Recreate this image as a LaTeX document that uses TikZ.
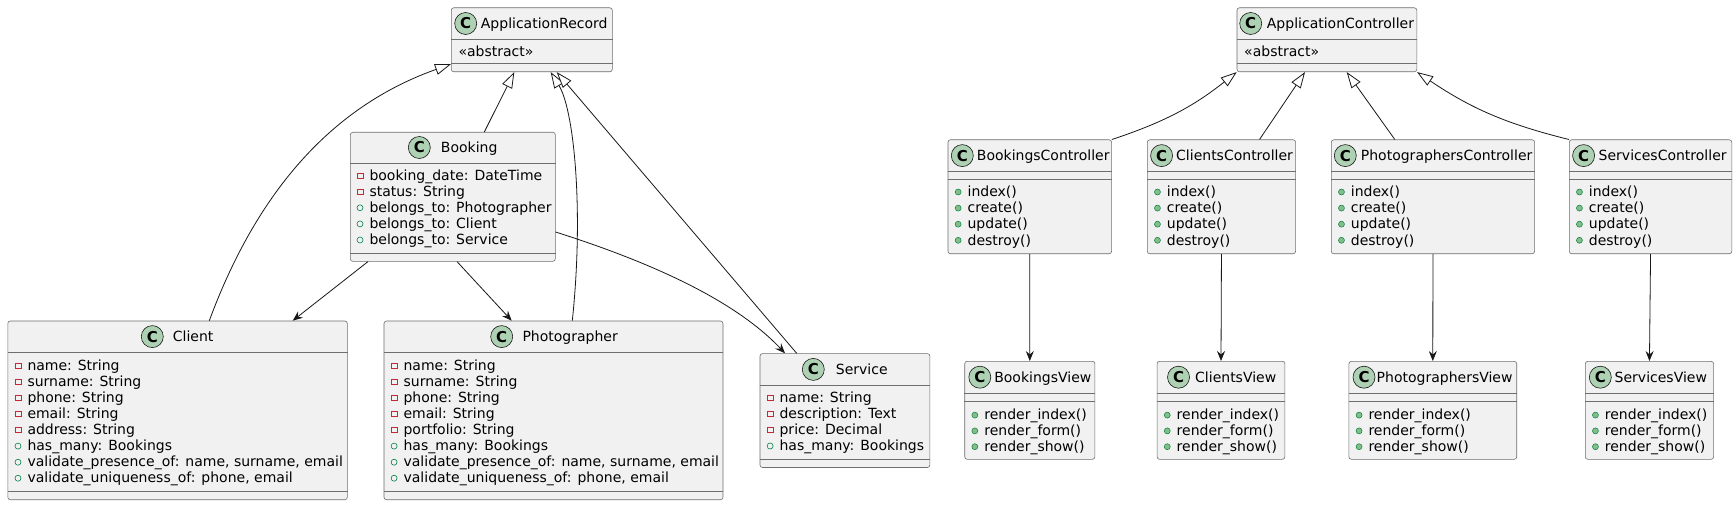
\documentclass[tikz,border=0pt]{standalone}
\usepackage{fontspec}
\setmainfont{DejaVu Sans}
\usetikzlibrary{arrows.meta,calc}

\definecolor{umlfill}{HTML}{F1F1F1}
\definecolor{umlline}{HTML}{181818}
\definecolor{umlbox}{HTML}{6E6E6E}
\definecolor{umlhead}{HTML}{ADD1B2}
\definecolor{umlpriv}{HTML}{C82930}
\definecolor{umlpub}{HTML}{038048}
\definecolor{umlmeth}{HTML}{84BE84}

\tikzset{
  umlclass/.style={draw=umlbox, fill=umlfill, line width=0.6pt, rounded corners=2.5pt,
    inner sep=0pt, anchor=north west},
  umlsep/.style={draw=umlbox, line width=0.6pt},
  umlicon/.style={circle, draw=umlline, fill=umlhead, line width=0.6pt, minimum size=22pt,
    inner sep=0pt, font=\fontsize{15}{15}\selectfont\bfseries},
  umlname/.style={anchor=base west, inner sep=0pt},
  umlrow/.style={anchor=base west, inner sep=0pt, text height=10pt, text depth=3pt},
  privmark/.style={rectangle, draw=umlpriv, line width=0.6pt, minimum size=5.5pt,
    inner sep=0pt, xshift=-6pt, yshift=1.2pt},
  pubmark/.style={circle, draw=umlpub, line width=0.6pt, minimum size=6pt,
    inner sep=0pt, xshift=-6pt, yshift=1.2pt},
  methmark/.style={circle, draw=umlpub, fill=umlmeth, line width=0.5pt, minimum size=6pt,
    inner sep=0pt, xshift=-6pt, yshift=1.2pt},
  privfield/.style={umlrow, label={[privmark]left:{}}},
  pubfield/.style={umlrow, label={[pubmark]left:{}}},
  pubmeth/.style={umlrow, label={[methmark]left:{}}},
  inh/.style={draw=umlline, line width=0.8pt, -{Triangle[length=16pt, width=11pt, fill=white]}},
  assoc/.style={draw=umlline, line width=0.8pt, -{Stealth[length=10pt, width=8pt, inset=3.5pt]}}
}

\begin{document}
\begin{tikzpicture}[x=1pt, y=-1pt, font=\fontsize{14}{16}\selectfont]
\useasboundingbox (0,0) rectangle (1735,505);
\fill [white] (0,0) rectangle (1735,505);

% models
\node [umlclass, minimum width=161pt, minimum height=64pt] (apprec) at (451,7.5) {};
\draw [umlsep] ($(apprec.north west)+(0,32)$) -- ($(apprec.north east)+(0,32)$);
\draw [umlsep] ($(apprec.north west)+(0,56)$) -- ($(apprec.north east)+(0,56)$);
\node [umlicon] (apprec-c) at (465.7,23.5) {C};
\node [umlname] (apprec-n) at (480.7,28.5) {ApplicationRecord};
\node [umlrow] (apprec-1) at (458.3,56.5) {«abstract»};

\node [umlclass, minimum width=205pt, minimum height=129pt] (booking) at (350,132) {};
\draw [umlsep] ($(booking.north west)+(0,31)$) -- ($(booking.north east)+(0,31)$);
\draw [umlsep] ($(booking.north west)+(0,121)$) -- ($(booking.north east)+(0,121)$);
\node [umlicon] (booking-c) at (419.3,147.5) {C};
\node [umlname] (booking-n) at (440.7,152.5) {Booking};
\node [privfield] (booking-1) at (369.3,180.3) {booking\_date: DateTime};
\node [privfield] (booking-2) at (369.3,196.4) {status: String};
\node [pubfield] (booking-3) at (369.3,212.5) {belongs\_to: Photographer};
\node [pubfield] (booking-4) at (369.3,228.6) {belongs\_to: Client};
\node [pubfield] (booking-5) at (369.3,244.7) {belongs\_to: Service};

\node [umlclass, minimum width=339.5pt, minimum height=178.7pt] (client) at (7.5,320.7) {};
\draw [umlsep] ($(client.north west)+(0,31.8)$) -- ($(client.north east)+(0,31.8)$);
\draw [umlsep] ($(client.north west)+(0,170.7)$) -- ($(client.north east)+(0,170.7)$);
\node [umlicon] (client-c) at (152.3,336.6) {C};
\node [umlname] (client-n) at (172.7,341.6) {Client};
\node [privfield] (client-1) at (27.3,370.5) {name: String};
\node [privfield] (client-2) at (27.3,386.6) {surname: String};
\node [privfield] (client-3) at (27.3,402.6) {phone: String};
\node [privfield] (client-4) at (27.3,418.7) {email: String};
\node [privfield] (client-5) at (27.3,434.7) {address: String};
\node [pubfield] (client-6) at (27.3,450.8) {has\_many: Bookings};
\node [pubfield] (client-7) at (27.3,466.9) {validate\_presence\_of: name, surname, email};
\node [pubfield] (client-8) at (27.3,482.9) {validate\_uniqueness\_of: phone, email};

\node [umlclass, minimum width=339pt, minimum height=178.7pt] (photographer) at (383.7,320.7) {};
\draw [umlsep] ($(photographer.north west)+(0,31.8)$) -- ($(photographer.north east)+(0,31.8)$);
\draw [umlsep] ($(photographer.north west)+(0,170.7)$) -- ($(photographer.north east)+(0,170.7)$);
\node [umlicon] (photographer-c) at (501.7,336.6) {C};
\node [umlname] (photographer-n) at (522.3,341.6) {Photographer};
\node [privfield] (photographer-1) at (403.4,370.5) {name: String};
\node [privfield] (photographer-2) at (403.4,386.6) {surname: String};
\node [privfield] (photographer-3) at (403.4,402.6) {phone: String};
\node [privfield] (photographer-4) at (403.4,418.7) {email: String};
\node [privfield] (photographer-5) at (403.4,434.7) {portfolio: String};
\node [pubfield] (photographer-6) at (403.4,450.8) {has\_many: Bookings};
\node [pubfield] (photographer-7) at (403.4,466.9) {validate\_presence\_of: name, surname, email};
\node [pubfield] (photographer-8) at (403.4,482.9) {validate\_uniqueness\_of: phone, email};

\node [umlclass, minimum width=169.9pt, minimum height=113.9pt] (service) at (759.7,353.3) {};
\draw [umlsep] ($(service.north west)+(0,32.2)$) -- ($(service.north east)+(0,32.2)$);
\draw [umlsep] ($(service.north west)+(0,105.9)$) -- ($(service.north east)+(0,105.9)$);
\node [umlicon] (service-c) at (813.3,369.4) {C};
\node [umlname] (service-n) at (835.7,374.4) {Service};
\node [privfield] (service-1) at (779.4,402.5) {name: String};
\node [privfield] (service-2) at (779.4,418.6) {description: Text};
\node [privfield] (service-3) at (779.4,434.6) {price: Decimal};
\node [pubfield] (service-4) at (779.4,450.7) {has\_many: Bookings};

% controllers
\node [umlclass, minimum width=179.8pt, minimum height=64pt] (appctrl) at (1236.7,7.5) {};
\draw [umlsep] ($(appctrl.north west)+(0,32)$) -- ($(appctrl.north east)+(0,32)$);
\draw [umlsep] ($(appctrl.north west)+(0,56)$) -- ($(appctrl.north east)+(0,56)$);
\node [umlicon] (appctrl-c) at (1250.7,23.5) {C};
\node [umlname] (appctrl-n) at (1266.7,28.5) {ApplicationController};
\node [umlrow] (appctrl-1) at (1244,56.5) {«abstract»};

\node [umlclass, minimum width=163.6pt, minimum height=114pt] (bookingsctrl) at (947.7,139.5) {};
\draw [umlsep] ($(bookingsctrl.north west)+(0,32.2)$) -- ($(bookingsctrl.north east)+(0,32.2)$);
\draw [umlsep] ($(bookingsctrl.north west)+(0,40.2)$) -- ($(bookingsctrl.north east)+(0,40.2)$);
\node [umlicon] (bookingsctrl-c) at (962.3,155.6) {C};
\node [umlname] (bookingsctrl-n) at (976.7,160.6) {BookingsController};
\node [pubmeth] (bookingsctrl-1) at (967.4,196.7) {index()};
\node [pubmeth] (bookingsctrl-2) at (967.4,212.8) {create()};
\node [pubmeth] (bookingsctrl-3) at (967.4,228.9) {update()};
\node [pubmeth] (bookingsctrl-4) at (967.4,245) {destroy()};

\node [umlclass, minimum width=148.3pt, minimum height=114pt] (clientsctrl) at (1147,139.5) {};
\draw [umlsep] ($(clientsctrl.north west)+(0,32.2)$) -- ($(clientsctrl.north east)+(0,32.2)$);
\draw [umlsep] ($(clientsctrl.north west)+(0,40.2)$) -- ($(clientsctrl.north east)+(0,40.2)$);
\node [umlicon] (clientsctrl-c) at (1161.6,155.6) {C};
\node [umlname] (clientsctrl-n) at (1176,160.6) {ClientsController};
\node [pubmeth] (clientsctrl-1) at (1166.7,196.7) {index()};
\node [pubmeth] (clientsctrl-2) at (1166.7,212.8) {create()};
\node [pubmeth] (clientsctrl-3) at (1166.7,228.9) {update()};
\node [pubmeth] (clientsctrl-4) at (1166.7,245) {destroy()};

\node [umlclass, minimum width=203.3pt, minimum height=114pt] (photographersctrl) at (1331,139.5) {};
\draw [umlsep] ($(photographersctrl.north west)+(0,32.2)$) -- ($(photographersctrl.north east)+(0,32.2)$);
\draw [umlsep] ($(photographersctrl.north west)+(0,40.2)$) -- ($(photographersctrl.north east)+(0,40.2)$);
\node [umlicon] (photographersctrl-c) at (1345.3,155.6) {C};
\node [umlname] (photographersctrl-n) at (1360.7,160.6) {PhotographersController};
\node [pubmeth] (photographersctrl-1) at (1350.7,196.7) {index()};
\node [pubmeth] (photographersctrl-2) at (1350.7,212.8) {create()};
\node [pubmeth] (photographersctrl-3) at (1350.7,228.9) {update()};
\node [pubmeth] (photographersctrl-4) at (1350.7,245) {destroy()};

\node [umlclass, minimum width=162.5pt, minimum height=114pt] (servicesctrl) at (1569,139.5) {};
\draw [umlsep] ($(servicesctrl.north west)+(0,32.2)$) -- ($(servicesctrl.north east)+(0,32.2)$);
\draw [umlsep] ($(servicesctrl.north west)+(0,40.2)$) -- ($(servicesctrl.north east)+(0,40.2)$);
\node [umlicon] (servicesctrl-c) at (1583.6,155.6) {C};
\node [umlname] (servicesctrl-n) at (1598.5,160.6) {ServicesController};
\node [pubmeth] (servicesctrl-1) at (1588.7,196.7) {index()};
\node [pubmeth] (servicesctrl-2) at (1588.7,212.8) {create()};
\node [pubmeth] (servicesctrl-3) at (1588.7,228.9) {update()};
\node [pubmeth] (servicesctrl-4) at (1588.7,245) {destroy()};

% views
\node [umlclass, minimum width=130.2pt, minimum height=98pt] (bookingsview) at (964.4,361) {};
\draw [umlsep] ($(bookingsview.north west)+(0,32.3)$) -- ($(bookingsview.north east)+(0,32.3)$);
\draw [umlsep] ($(bookingsview.north west)+(0,40.5)$) -- ($(bookingsview.north east)+(0,40.5)$);
\node [umlicon] (bookingsview-c) at (979.8,377.2) {C};
\node [umlname] (bookingsview-n) at (994.1,382.2) {BookingsView};
\node [pubmeth] (bookingsview-1) at (984.1,419.8) {render\_index()};
\node [pubmeth] (bookingsview-2) at (984.1,435.6) {render\_form()};
\node [pubmeth] (bookingsview-3) at (984.1,451.4) {render\_show()};

\node [umlclass, minimum width=127.8pt, minimum height=98pt] (clientsview) at (1156.8,361) {};
\draw [umlsep] ($(clientsview.north west)+(0,32.3)$) -- ($(clientsview.north east)+(0,32.3)$);
\draw [umlsep] ($(clientsview.north west)+(0,40.5)$) -- ($(clientsview.north east)+(0,40.5)$);
\node [umlicon] (clientsview-c) at (1178.5,377.2) {C};
\node [umlname] (clientsview-n) at (1195,382.2) {ClientsView};
\node [pubmeth] (clientsview-1) at (1176.5,419.8) {render\_index()};
\node [pubmeth] (clientsview-2) at (1176.5,435.6) {render\_form()};
\node [pubmeth] (clientsview-3) at (1176.5,451.4) {render\_show()};

\node [umlclass, minimum width=167.8pt, minimum height=98pt] (photographersview) at (1348.6,361) {};
\draw [umlsep] ($(photographersview.north west)+(0,32.3)$) -- ($(photographersview.north east)+(0,32.3)$);
\draw [umlsep] ($(photographersview.north west)+(0,40.5)$) -- ($(photographersview.north east)+(0,40.5)$);
\node [umlicon] (photographersview-c) at (1364,377.2) {C};
\node [umlname] (photographersview-n) at (1376.5,382.2) {PhotographersView};
\node [pubmeth] (photographersview-1) at (1368.3,419.8) {render\_index()};
\node [pubmeth] (photographersview-2) at (1368.3,435.6) {render\_form()};
\node [pubmeth] (photographersview-3) at (1368.3,451.4) {render\_show()};

\node [umlclass, minimum width=128.3pt, minimum height=98pt] (servicesview) at (1585,361) {};
\draw [umlsep] ($(servicesview.north west)+(0,32.3)$) -- ($(servicesview.north east)+(0,32.3)$);
\draw [umlsep] ($(servicesview.north west)+(0,40.5)$) -- ($(servicesview.north east)+(0,40.5)$);
\node [umlicon] (servicesview-c) at (1600.3,377.2) {C};
\node [umlname] (servicesview-n) at (1614.5,382.2) {ServicesView};
\node [pubmeth] (servicesview-1) at (1604.7,419.8) {render\_index()};
\node [pubmeth] (servicesview-2) at (1604.7,435.6) {render\_form()};
\node [pubmeth] (servicesview-3) at (1604.7,451.4) {render\_show()};

% inheritance
\draw [inh] ($(client.north west)+(201.8,0)$) .. controls (265,170) and (350,100) .. ($(apprec.south west)+(0,-8)$);
\draw [inh] ($(booking.north west)+(134.3,0)$) -- ($(apprec.south west)+(63.3,0)$);
\draw [inh] ($(photographer.north west)+(188.6,0)$) .. controls (584,210) and (574,110) .. ($(apprec.south west)+(99.7,0)$);
\draw [inh] ($(service.north west)+(37,0)$) -- ($(apprec.south west)+(105.7,0)$);
\draw [inh] (bookingsctrl.north east) to [bend right=10] (appctrl.south west);
\draw [inh] ($(clientsctrl.north west)+(112.5,0)$) -- ($(appctrl.south west)+(68.3,0)$);
\draw [inh] ($(photographersctrl.north west)+(63.8,0)$) -- ($(appctrl.south west)+(110,0)$);
\draw [inh] (servicesctrl.north west) to [bend left=10] (appctrl.south east);

% associations
\draw [assoc] ($(booking.south west)+(18,0)$) -- ($(client.north west)+(285.2,0)$);
\draw [assoc] ($(booking.south west)+(107,0)$) -- ($(photographer.north west)+(128,0)$);
\draw [assoc] ($(booking.north east)+(0,100)$) .. controls (650,262) and (735,300) .. ($(service.north west)+(25.3,0)$);
\draw [assoc] (bookingsctrl.south) -- (bookingsview.north);
\draw [assoc] (clientsctrl.south) -- (clientsview.north);
\draw [assoc] (photographersctrl.south) -- (photographersview.north);
\draw [assoc] (servicesctrl.south) -- (servicesview.north);
\end{tikzpicture}
\end{document}
